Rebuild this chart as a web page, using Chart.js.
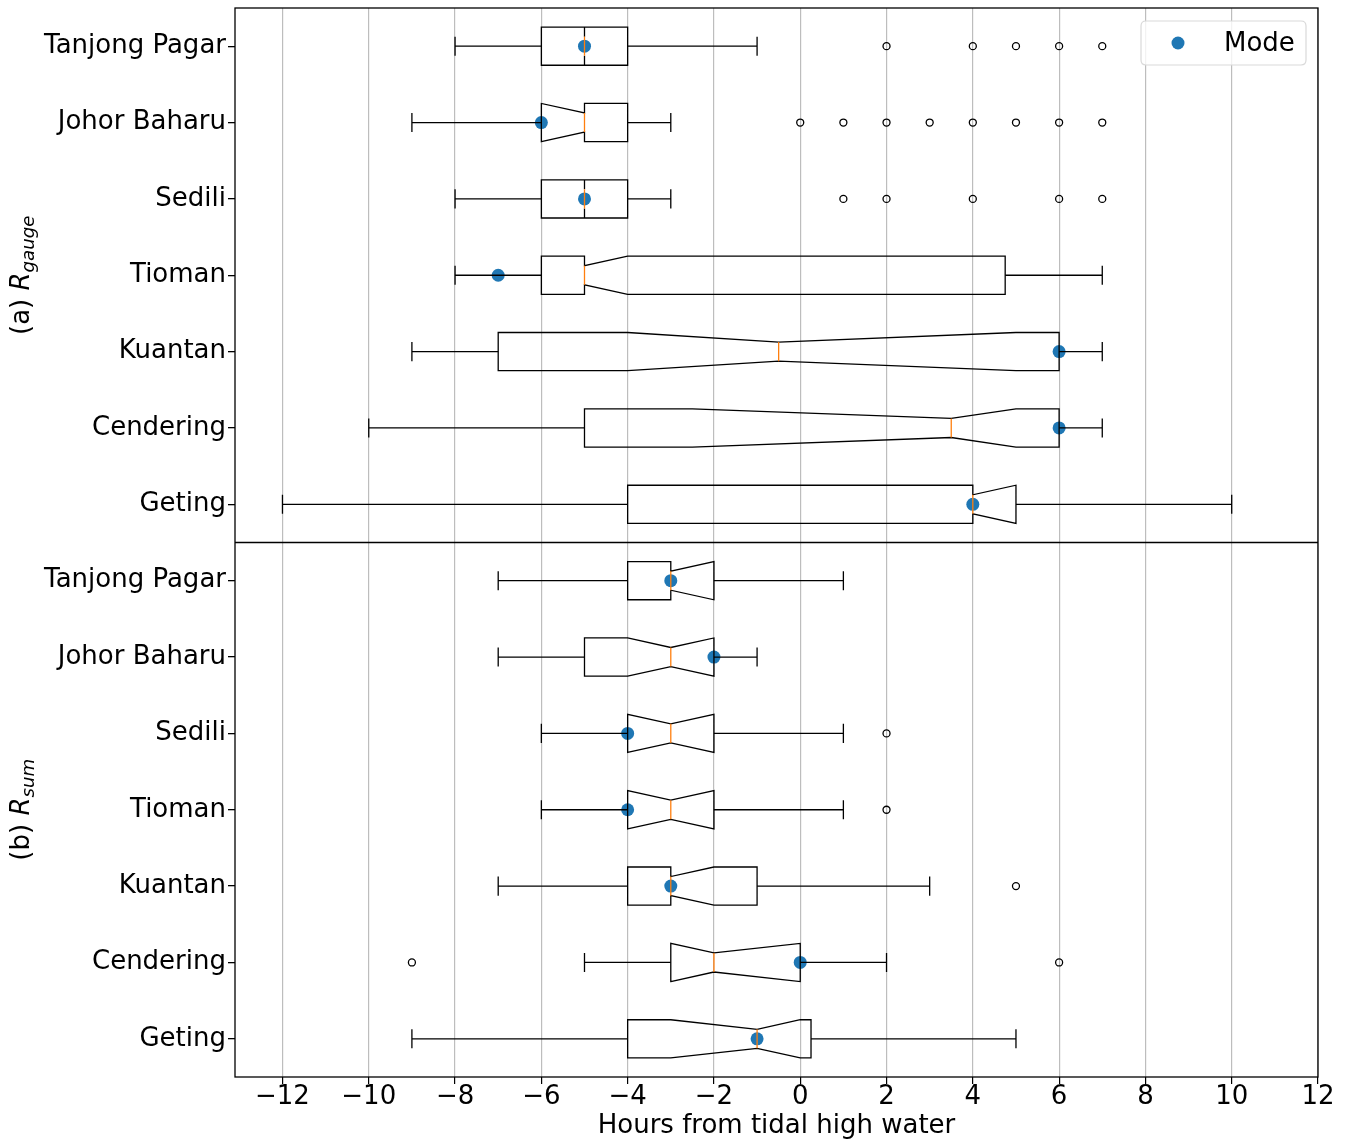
<!DOCTYPE html>
<html>
<head>
<meta charset="utf-8">
<title>Hours from tidal high water</title>
<script src="https://cdn.jsdelivr.net/npm/chart.js@4.4.1/dist/chart.umd.min.js"></script>
<style>
  html, body { margin: 0; padding: 0; background: #fff; }
  canvas { display: block; }
</style>
</head>
<body>
<canvas id="chart" width="1350" height="1142"></canvas>
<script>
// stations, top to bottom in each panel
const stations = ["Tanjong Pagar", "Johor Baharu", "Sedili", "Tioman", "Kuantan", "Cendering", "Geting"];
const xTicks = [-12, -10, -8, -6, -4, -2, 0, 2, 4, 6, 8, 10, 12];
const xTitle = "Hours from tidal high water";
const panelTitles = [["(a) ", "R", "gauge"], ["(b) ", "R", "sum"]];

// (a) R gauge - box stats (hours)
const gaugeWhisLo = [-8, -9, -8, -8, -9, -10, -12];
const gaugeQ1     = [-6, -6, -6, -6, -7, -5, -4];
const gaugeMed    = [-5, -5, -5, -5, -0.5, 3.5, 4];
const gaugeQ3     = [-4, -4, -4, 4.75, 6, 6, 5];
const gaugeWhisHi = [-1, -3, -3, 7, 7, 7, 10];
const gaugeCiLo   = [-5, -6, -5, -5, -4, -2.5, 4];
const gaugeCiHi   = [-5, -5, -5, -4, 5, 5, 5];
const gaugeMode   = [-5, -6, -5, -7, 6, 6, 4];
const gaugeFliers = [[2, 4, 5, 6, 7], [0, 1, 2, 3, 4, 5, 6, 7], [1, 2, 4, 6, 7], [], [], [], []];

// (b) R sum
const sumWhisLo = [-7, -7, -6, -6, -7, -5, -9];
const sumQ1     = [-4, -5, -4, -4, -4, -3, -4];
const sumMed    = [-3, -3, -3, -3, -3, -2, -1];
const sumQ3     = [-2, -2, -2, -2, -1, 0, 0.25];
const sumWhisHi = [1, -1, 1, 1, 3, 2, 5];
const sumCiLo   = [-3, -4, -4, -4, -3, -3, -3];
const sumCiHi   = [-2, -2, -2, -2, -2, 0, 0];
const sumMode   = [-3, -2, -4, -4, -3, 0, -1];
const sumFliers = [[], [], [2], [2], [5], [-9, 6], []];

const panels = [
  { axis: "yA", whisLo: gaugeWhisLo, q1: gaugeQ1, med: gaugeMed, q3: gaugeQ3, whisHi: gaugeWhisHi, ciLo: gaugeCiLo, ciHi: gaugeCiHi, title: panelTitles[0] },
  { axis: "yB", whisLo: sumWhisLo, q1: sumQ1, med: sumMed, q3: sumQ3, whisHi: sumWhisHi, ciLo: sumCiLo, ciHi: sumCiHi, title: panelTitles[1] }
];

const FONT = "DejaVu Sans";
const FS = 26;
Chart.defaults.font.family = FONT;
Chart.defaults.font.size = FS;
Chart.defaults.color = "#000";

const modePoints = list => list.map((v, i) => ({ x: v, y: stations[i] }));
const flierPoints = list => list.flatMap((vals, i) => vals.map(v => ({ x: v, y: stations[i] })));

// notched boxes, whiskers, caps and medians, drawn off the chart scales
const boxPlugin = {
  id: "notchedBoxes",
  afterDatasetsDraw(chart) {
    const ctx = chart.ctx;
    const xs = chart.scales.x;
    const X = v => xs.getPixelForValue(v);
    panels.forEach(p => {
      const ys = chart.scales[p.axis];
      const unit = Math.abs(ys.getPixelForValue(1) - ys.getPixelForValue(0));
      const hw = unit * 0.25, nw = unit * 0.125;
      stations.forEach((s, i) => {
        const yc = ys.getPixelForValue(i);
        ctx.save();
        ctx.strokeStyle = "#000";
        ctx.lineWidth = 1.3;
        ctx.lineJoin = "miter";
        ctx.beginPath();
        ctx.moveTo(X(p.q1[i]), yc + hw);
        ctx.lineTo(X(p.ciLo[i]), yc + hw);
        ctx.lineTo(X(p.med[i]), yc + nw);
        ctx.lineTo(X(p.ciHi[i]), yc + hw);
        ctx.lineTo(X(p.q3[i]), yc + hw);
        ctx.lineTo(X(p.q3[i]), yc - hw);
        ctx.lineTo(X(p.ciHi[i]), yc - hw);
        ctx.lineTo(X(p.med[i]), yc - nw);
        ctx.lineTo(X(p.ciLo[i]), yc - hw);
        ctx.lineTo(X(p.q1[i]), yc - hw);
        ctx.closePath();
        ctx.stroke();
        // whiskers + caps
        ctx.beginPath();
        ctx.moveTo(X(p.whisLo[i]), yc); ctx.lineTo(X(p.q1[i]), yc);
        ctx.moveTo(X(p.q3[i]), yc); ctx.lineTo(X(p.whisHi[i]), yc);
        ctx.moveTo(X(p.whisLo[i]), yc - nw); ctx.lineTo(X(p.whisLo[i]), yc + nw);
        ctx.moveTo(X(p.whisHi[i]), yc - nw); ctx.lineTo(X(p.whisHi[i]), yc + nw);
        ctx.stroke();
        // median
        ctx.strokeStyle = "#ff7f0e";
        ctx.beginPath();
        ctx.moveTo(X(p.med[i]), yc - nw); ctx.lineTo(X(p.med[i]), yc + nw);
        ctx.stroke();
        ctx.restore();
      });
    });
  },
  afterDraw(chart) {
    const ctx = chart.ctx;
    const a = chart.chartArea;
    ctx.save();
    // axes frame and panel divider
    ctx.strokeStyle = "#000";
    ctx.lineWidth = 1.3;
    ctx.strokeRect(a.left, a.top, a.right - a.left, a.bottom - a.top);
    const mid = chart.scales.yA.bottom;
    ctx.beginPath(); ctx.moveTo(a.left, mid); ctx.lineTo(a.right, mid); ctx.stroke();

    // panel titles with italic subscript
    panels.forEach(p => {
      const ys = chart.scales[p.axis];
      const yc = (ys.top + ys.bottom) / 2;
      const parts = [
        { t: p.title[0], f: FS + "px '" + FONT + "'", dy: 0 },
        { t: p.title[1], f: "italic " + FS + "px '" + FONT + "'", dy: 0 },
        { t: p.title[2], f: "italic " + (FS * 0.7) + "px '" + FONT + "'", dy: 5 }
      ];
      let total = 0;
      parts.forEach(q => { ctx.font = q.f; q.w = ctx.measureText(q.t).width; total += q.w; });
      ctx.save();
      ctx.translate(29, yc);
      ctx.rotate(-Math.PI / 2);
      ctx.fillStyle = "#000";
      ctx.textBaseline = "alphabetic";
      ctx.textAlign = "left";
      let x = -total / 2;
      parts.forEach(q => { ctx.font = q.f; ctx.fillText(q.t, x, q.dy); x += q.w; });
      ctx.restore();
    });

    // legend box, upper right
    const ds = chart.data.datasets[0];
    const lw = 165, lh = 44, r = 5;
    const lx = a.right - 12 - lw, ly = a.top + 13;
    ctx.beginPath();
    ctx.moveTo(lx + r, ly);
    ctx.lineTo(lx + lw - r, ly); ctx.quadraticCurveTo(lx + lw, ly, lx + lw, ly + r);
    ctx.lineTo(lx + lw, ly + lh - r); ctx.quadraticCurveTo(lx + lw, ly + lh, lx + lw - r, ly + lh);
    ctx.lineTo(lx + r, ly + lh); ctx.quadraticCurveTo(lx, ly + lh, lx, ly + lh - r);
    ctx.lineTo(lx, ly + r); ctx.quadraticCurveTo(lx, ly, lx + r, ly);
    ctx.closePath();
    ctx.fillStyle = "rgba(255,255,255,0.8)";
    ctx.fill();
    ctx.strokeStyle = "#d9d9d9";
    ctx.lineWidth = 1.2;
    ctx.stroke();
    ctx.fillStyle = ds.backgroundColor;
    ctx.beginPath(); ctx.arc(lx + 37, ly + 22, ds.pointRadius, 0, Math.PI * 2); ctx.fill();
    ctx.fillStyle = "#000";
    ctx.font = FS + "px '" + FONT + "'";
    ctx.textBaseline = "alphabetic";
    ctx.fillText(ds.label, lx + 83, ly + 30);
    ctx.restore();
  }
};

const yAxis = (weight) => ({
  type: "category",
  labels: stations,
  offset: true,
  position: "left",
  stack: "panels",
  stackWeight: 1,
  weight: weight,
  border: { display: false },
  grid: { display: true, drawOnChartArea: false, drawTicks: true, offset: false, tickLength: 7, tickColor: "#000", lineWidth: 1.3 },
  ticks: { padding: 2, font: { size: FS } },
  afterFit: s => { s.width = 235; s.paddingTop = 0; s.paddingBottom = 0; }
});

new Chart(document.getElementById("chart"), {
  type: "scatter",
  data: {
    datasets: [
      { label: "Mode", data: modePoints(gaugeMode), xAxisID: "x", yAxisID: "yA",
        backgroundColor: "#1f77b4", borderWidth: 0, pointRadius: 6.5 },
      { label: "Mode", data: modePoints(sumMode), xAxisID: "x", yAxisID: "yB",
        backgroundColor: "#1f77b4", borderWidth: 0, pointRadius: 6.5 },
      { label: "fliers", data: flierPoints(gaugeFliers), xAxisID: "x", yAxisID: "yA",
        backgroundColor: "rgba(0,0,0,0)", borderColor: "#000", borderWidth: 1.3, pointRadius: 3.5 },
      { label: "fliers", data: flierPoints(sumFliers), xAxisID: "x", yAxisID: "yB",
        backgroundColor: "rgba(0,0,0,0)", borderColor: "#000", borderWidth: 1.3, pointRadius: 3.5 }
    ]
  },
  options: {
    responsive: false,
    devicePixelRatio: 1,
    animation: false,
    layout: { padding: { left: 0, top: 8, right: 32, bottom: 0 } },
    plugins: { legend: { display: false }, tooltip: { enabled: false } },
    scales: {
      x: {
        type: "linear",
        position: "bottom",
        min: -13.1,
        max: 12,
        border: { display: false },
        grid: { color: "#bdbdbd", lineWidth: 1.2, tickColor: "#000", tickLength: 7 },
        ticks: {
          padding: 0,
          font: { size: FS, lineHeight: 1 },
          callback: v => (v < 0 ? "\u2212" + Math.abs(v) : String(v))
        },
        afterBuildTicks: s => { s.ticks = xTicks.map(v => ({ value: v })); },
        title: { display: true, text: xTitle, font: { size: FS }, padding: { top: 0, bottom: 0 } },
        afterFit: s => { s.height = 65; }
      },
      yA: yAxis(1),
      yB: yAxis(0)
    }
  },
  plugins: [boxPlugin]
});
</script>
</body>
</html>
